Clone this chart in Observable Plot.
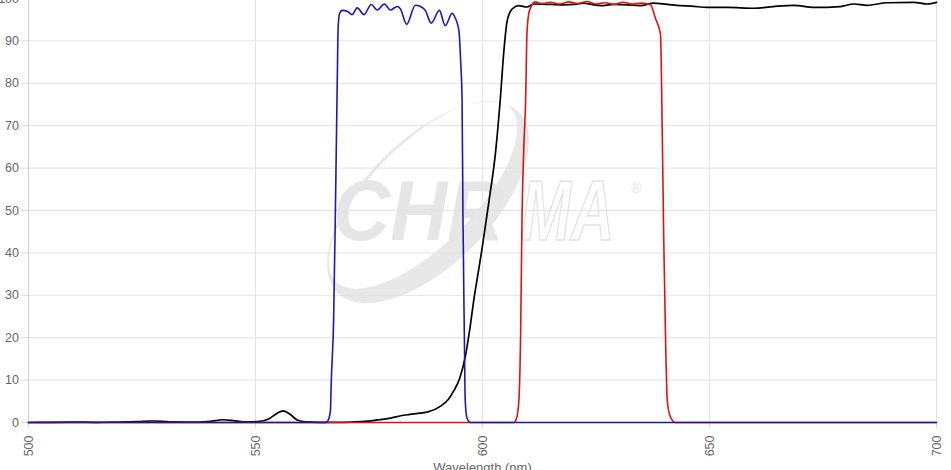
<!DOCTYPE html>
<html>
<head>
<meta charset="utf-8">
<script src="https://cdn.jsdelivr.net/npm/d3@7"></script>
<script src="https://cdn.jsdelivr.net/npm/@observablehq/plot@0.6"></script>
<style>
html, body { margin: 0; padding: 0; background: #fff; overflow: hidden; }
#chart { width: 951px; height: 470px; overflow: hidden; }
#chart svg { display: block; margin-top: -6px; }
</style>
</head>
<body>
<div id="chart"></div>
<script>
// ---- tick labels ----
const xTicks = [500, 550, 600, 650, 700];
const yTicks = [0, 10, 20, 30, 40, 50, 60, 70, 80, 90, 100];
const xTitle = "Wavelength (nm)";

// ---- black series (dichroic) ----
const blackNm = [500, 505, 510, 515, 520, 524, 527.5, 531, 536, 540, 542.8, 545.5, 548, 551, 553, 554.8, 556.1, 557.5, 559.2, 561, 564, 568, 571, 574, 577, 580, 582, 584, 586.3, 588, 590.7, 592.5, 593.7, 595, 596.3, 597.2, 598.1, 599, 599.9, 601.4, 602.9, 603.9, 604.7, 605.4, 606.5, 608, 609.8, 611.3, 615, 618, 620, 622.3, 624, 626, 628.9, 632, 634.8, 637.7, 640.7, 643.6, 646, 649.5, 654, 659.8, 664, 668.6, 673, 678.8, 681.8, 684.7, 689.1, 695, 697.9, 700];
const blackT  = [0, 0.05, 0.1, 0.05, 0.1, 0.2, 0.35, 0.15, 0.1, 0.3, 0.65, 0.4, 0.15, 0.3, 0.9, 2.2, 2.75, 2.0, 0.6, 0.15, 0.05, 0.05, 0.1, 0.25, 0.6, 1.1, 1.6, 1.9, 2.2, 2.5, 3.8, 5.5, 7.5, 10.5, 16, 22, 29, 35, 41, 52, 64, 76, 87.5, 94.5, 97.5, 98.3, 98.0, 98.7, 98.6, 98.5, 98.6, 98.9, 98.6, 98.3, 98.6, 98.5, 98.3, 98.9, 98.6, 98.3, 98.2, 97.9, 97.9, 97.7, 98.1, 98.4, 97.9, 98.1, 98.7, 98.4, 99.0, 99.1, 98.7, 99.1];

// ---- red series (emission) ----
const redNm = [500, 606.9, 607.5, 608.0, 608.4, 608.7, 609.1, 609.5, 609.8, 610.2, 610.6, 611.6, 613, 615, 617, 619, 621, 623, 625, 627, 629, 631, 633, 635, 637.0, 638.1, 639.2, 639.6, 639.9, 640.3, 640.7, 641.4, 642.5, 700];
const redT  = [0, 0, 1, 5, 21, 48, 65, 76, 92, 96.5, 97.8, 99.2, 98.8, 99.1, 98.7, 99.2, 98.8, 99.3, 98.7, 99.0, 98.6, 99.1, 98.7, 98.9, 98.5, 95.3, 91.6, 68, 44.5, 21, 5.2, 1.3, 0, 0];

// ---- blue series (excitation) ----
const blueNm = [500, 565.5, 566.0, 566.5, 566.7, 567.2, 567.6, 568.0, 568.2, 568.5, 569.1, 570.2, 571.3, 572.4, 573.9, 575.5, 576.8, 578.4, 579.7, 581.2, 581.9, 583.3, 585.2, 586.3, 587.4, 588.7, 590.5, 591.8, 593.3, 594.0, 594.8, 595.2, 595.5, 595.7, 596.0, 596.2, 596.6, 597.4, 700];
const blueT  = [0, 0, 0.5, 2.8, 10, 24, 50, 80, 93, 96.4, 97.2, 97.0, 96.2, 97.8, 96.2, 98.6, 97.3, 98.7, 97.3, 98.1, 97.6, 93.9, 98.4, 98.1, 97.2, 94.2, 97.2, 93.6, 96.5, 95.4, 92.5, 85, 76, 48, 21, 5, 1, 0, 0];

const toRows = (xs, ys) => xs.map((x, i) => ({nm: x, t: ys[i]}));
const black = toRows(blackNm, blackT);
const red = toRows(redNm, redT);
const blue = toRows(blueNm, blueT);

const tickFont = "'Liberation Sans Narrow', 'Liberation Sans', Arial, sans-serif";

const plot = Plot.plot({
  width: 951,
  height: 482,
  marginTop: 4,
  marginBottom: 54,
  marginLeft: 28,
  marginRight: 15,
  style: {fontFamily: tickFont, background: "#fff", color: "#666", overflow: "visible"},
  x: {domain: [500, 700]},
  y: {domain: [0, 100]},
  marks: [
    Plot.gridY({ticks: yTicks, stroke: "#e3e3e3", strokeOpacity: 1}),
    Plot.gridX({ticks: xTicks, stroke: "#e3e3e3", strokeOpacity: 1}),
    Plot.ruleX([500], {stroke: "#cfcfcf"}),
    Plot.axisY({ticks: yTicks, tickSize: 7, tickPadding: 2.5, stroke: "#dadada", fill: "#666", fontSize: 12.5, label: null}),
    Plot.axisX({ticks: xTicks, tickRotate: -90, tickSize: 6, tickPadding: 7, stroke: "#dadada", fill: "#666", fontSize: 12.5, label: null}),
    Plot.text([xTitle], {frameAnchor: "bottom", dy: 40, lineAnchor: "top", fontSize: 13, fill: "#666", fontFamily: "'Liberation Sans', Arial, sans-serif"}),
    Plot.line(black, {x: "nm", y: "t", stroke: "#000", strokeWidth: 1.7, curve: "monotone-x"}),
    Plot.line(red, {x: "nm", y: "t", stroke: "#e01212", strokeWidth: 1.6, curve: "monotone-x"}),
    Plot.line(blue, {x: "nm", y: "t", stroke: "#1a1ab2", strokeWidth: 1.6, curve: "monotone-x"})
  ]
});

// ---- watermark (decorative logo) placed with the chart scales ----
const sx = plot.scale("x"), sy = plot.scale("y");
const svg = d3.select(plot);
const wm = svg.insert("g", "g").attr("class", "watermark").attr("text-anchor", "start");
const cx = sx.apply(588.1), cy = sy.apply(51.8);
const a = 128, b = 63, shift = 9;
const ell = (ox, oy, rx, ry) => `M${ox - rx},${oy} A${rx},${ry} 0 1 0 ${ox + rx},${oy} A${rx},${ry} 0 1 0 ${ox - rx},${oy} Z`;
wm.append("path")
  .attr("d", ell(cx, cy, a, b) + " " + ell(cx + 2, cy - shift, a - 5, b - 12))
  .attr("fill", "#e8e8e8")
  .attr("fill-rule", "evenodd")
  .attr("transform", `rotate(-45 ${cx} ${cy})`);
const base = sy.apply(42.9);
wm.append("text")
  .attr("transform", `translate(${sx.apply(567.2)},${base}) scale(1,1.08)`)
  .attr("text-anchor", "start")
  .attr("font-family", "'Liberation Sans', Arial, sans-serif")
  .attr("font-weight", "bold").attr("font-style", "italic")
  .attr("font-size", 79)
  .attr("fill", "#e6e6e6")
  .text("CHR");
wm.append("text")
  .attr("transform", `translate(${sx.apply(608.6)},${base}) scale(1,1.43)`)
  .attr("text-anchor", "start")
  .attr("font-family", "'Liberation Sans', Arial, sans-serif")
  .attr("font-weight", "bold").attr("font-style", "italic")
  .attr("font-size", 60)
  .attr("fill", "none").attr("stroke", "#e2e2e2").attr("stroke-width", 1.1)
  .text("MA");
wm.append("text")
  .attr("x", sx.apply(634)).attr("y", sy.apply(54))
  .attr("text-anchor", "middle")
  .attr("font-family", "'Liberation Sans', Arial, sans-serif")
  .attr("font-size", 14)
  .attr("fill", "#e2e2e2")
  .text("®");

document.getElementById("chart").appendChild(plot);
</script>
</body>
</html>
